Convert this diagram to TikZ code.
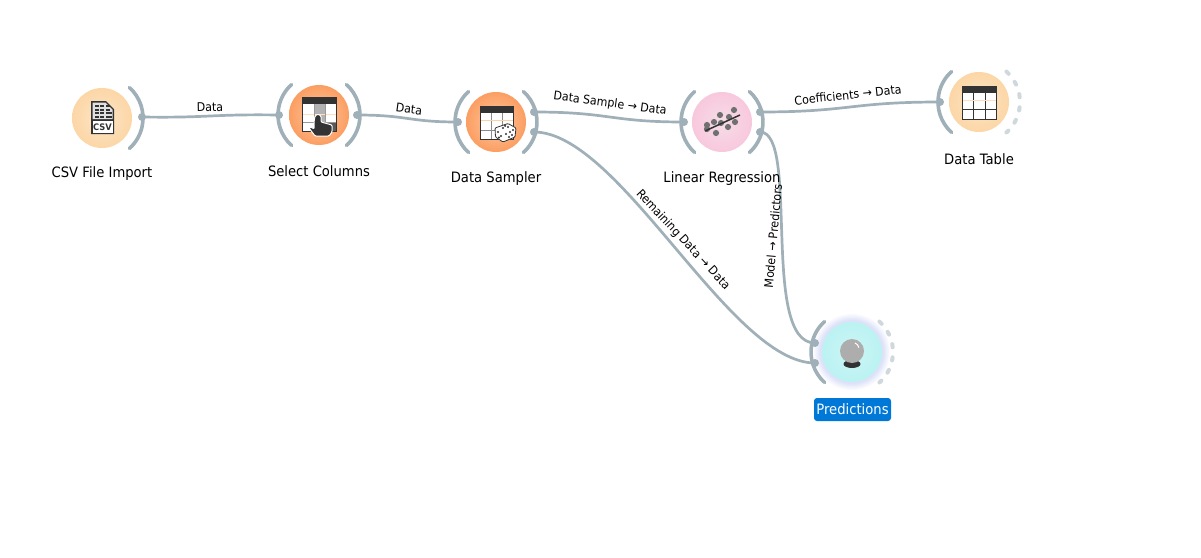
\documentclass[tikz,border=0pt]{standalone}
\usepackage{fontspec}
\setmainfont{DejaVu Sans}[FakeStretch=0.92]
\begin{document}
\begin{tikzpicture}[x=1pt,y=-1pt,
  link/.style={draw=wire,line width=2.7pt},
  arcmark/.style={draw=wire,line width=3.6pt,line cap=round},
  freearc/.style={draw=wirefaint,line width=4pt,line cap=round,dash pattern=on 3.2pt off 10pt},
  port/.style={circle,fill=wire,inner sep=0pt,minimum size=8pt},
  wlabel/.style={font=\fontsize{14.3}{16}\selectfont,text=black,inner sep=0pt},
  elabel/.style={font=\fontsize{12}{13}\selectfont,text=black,inner sep=0pt},
  widget/.style={circle,inner sep=0pt,minimum size=60pt},
  tan/.style={widget,inner color=tanc,outer color=tano},
  orangew/.style={widget,inner color=orc,outer color=oro},
  pinkw/.style={widget,inner color=pic,outer color=pio},
  cyanw/.style={widget,inner color=cyc,outer color=cyo},
  greydot/.style={circle,fill=dotc,inner sep=0pt,minimum size=6.2pt}
]
\definecolor{wire}{HTML}{A0B0B8}
\definecolor{wirefaint}{HTML}{CFD8DC}
\definecolor{tanc}{HTML}{FDE6C8}\definecolor{tano}{HTML}{FCD6A6}
\definecolor{orc}{HTML}{FFC7A0}\definecolor{oro}{HTML}{FB9E62}
\definecolor{pic}{HTML}{F6DDE8}\definecolor{pio}{HTML}{F8C8DC}
\definecolor{cyc}{HTML}{CCF6F5}\definecolor{cyo}{HTML}{BBF2F2}
\definecolor{inkc}{HTML}{333333}
\definecolor{dotc}{HTML}{707070}
\definecolor{sel}{HTML}{0078D7}
\definecolor{halo}{HTML}{6A7CF0}
\path[use as bounding box,fill=white] (0,0) rectangle (1201,557);

% halo
\foreach \r in {38,37,36,35,34,33,32}{\fill[halo,opacity=.03] (852,352) circle (\r);}

% widgets
\node[tan] (csv) at (102,118) {};
\node[orangew] (sel) at (319,115) {};
\node[orangew] (sam) at (496,122) {};
\node[pinkw] (lin) at (722,122) {};
\node[tan] (tab) at (979,102) {};
\node[cyanw] (pre) at (852,352) {};

% port arcs
\draw[arcmark] (csv.center) ++(-48:41) arc[start angle=-48,end angle=48,radius=41];
\draw[arcmark] (sel.center) ++(-48:41) arc[start angle=-48,end angle=48,radius=41];
\draw[arcmark] (sel.center) ++(132:41) arc[start angle=132,end angle=228,radius=41];
\draw[arcmark] (sam.center) ++(-48:41) arc[start angle=-48,end angle=48,radius=41];
\draw[arcmark] (sam.center) ++(132:41) arc[start angle=132,end angle=228,radius=41];
\draw[arcmark] (lin.center) ++(-48:41) arc[start angle=-48,end angle=48,radius=41];
\draw[arcmark] (lin.center) ++(132:41) arc[start angle=132,end angle=228,radius=41];
\draw[arcmark] (tab.center) ++(132:41) arc[start angle=132,end angle=228,radius=41];
\draw[arcmark] (pre.center) ++(132:41) arc[start angle=132,end angle=228,radius=41];
\draw[freearc] (tab.center) ++(-48:41) arc[start angle=-48,end angle=48,radius=41];
\draw[freearc] (pre.center) ++(-48:41) arc[start angle=-48,end angle=48,radius=41];

% ports
\node[port] (csvo) at (142,117) {};
\node[port] (seli) at (279,115) {};
\node[port] (selo) at (357,115) {};
\node[port] (sami) at (458,122) {};
\node[port] (samoa) at (534,112) {};
\node[port] (samob) at (534,132) {};
\node[port] (lini) at (684,122) {};
\node[port] (linoa) at (760,112) {};
\node[port] (linob) at (760,132) {};
\node[port] (tabi) at (940,102) {};
\node[port] (preia) at (815,343) {};
\node[port] (preib) at (815,363) {};

% connectors
\draw[link] (csvo.center) .. controls (210,118) and (210,114) .. (seli.center);
\draw[link] (selo.center) .. controls (408,115) and (408,122) .. (sami.center);
\draw[link] (samoa.center) .. controls (610,112) and (610,122) .. (lini.center);
\draw[link] (linoa.center) .. controls (850,112) and (850,102) .. (tabi.center);
\draw[link] (samob.center) .. controls (620,132) and (730,363) .. (preib.center);
\draw[link] (linob.center) .. controls (800,132) and (760,343) .. (preia.center);

% edge labels
\node[elabel,rotate=1] (l1) at (210,107) {Data};
\node[elabel,rotate=-8] (l2) at (409,109) {Data};
\node[elabel,rotate=-7.5] (l3) at (610,104) {Data Sample → Data};
\node[elabel,rotate=6] (l4) at (848,95) {Coefficients → Data};
\node[elabel,rotate=-47] (l5) at (683,240) {Remaining Data → Data};
\node[elabel,rotate=85] (l6) at (773,236) {Model → Predictors};

% widget labels
\node[wlabel] (t1) at (102,174) {CSV File Import};
\node[wlabel] (t2) at (319,171) {Select Columns};
\node[wlabel] (t3) at (496,179) {Data Sampler};
\node[wlabel] (t4) at (722,179) {Linear Regression};
\node[wlabel] (t5) at (979,159) {Data Table};
\node[fill=sel,rounded corners=3pt,minimum width=77pt,minimum height=23pt,inner sep=0pt] (t6) at (852.5,409.5) {};
\node[wlabel,text=white] (t6t) at (852.5,409.5) {Predictions};

% CSV icon
\fill[inkc] (91,101) -- (106,101) -- (114,109) -- (114,134) -- (91,134) -- cycle;
\fill[white!88!black] (92.5,102.5) -- (105.5,102.5) -- (112.5,109.5) -- (112.5,119) -- (92.5,119) -- cycle;
\foreach \r in {105,108.5,112,115.5}{
  \foreach \c in {94.5,100,105.5}{\fill[inkc] (\c,\r) rectangle ++(4.3,2.3);}
}
\foreach \r in {112,115.5}{\fill[inkc] (109.5,\r) rectangle ++(2.6,2.3);}
\fill[white] (92.5,121) rectangle (112.5,132.5);
\node[inner sep=0pt,text=inkc,font=\fontsize{9}{9}\bfseries\selectfont] (csvt) at (102.5,127) {CSV};

% Select Columns icon
\fill[white] (302,97) rectangle (336,131);
\fill[white!70!black] (314,104) rectangle (325,131);
\fill[white!35!black] (325,123) rectangle (336,131);
\draw[white!75!orange,line width=1pt] (302,114) -- (336,114);
\draw[white!60!black,line width=.7pt] (314,104) -- (314,131) (325,104) -- (325,131) (302,122) -- (336,122);
\fill[inkc] (302,97) rectangle (336,104);
\draw[inkc,line width=1pt] (302,97) rectangle (336,131);
\draw[white,line width=1pt,fill=inkc,rounded corners=1pt] (314,122) -- (314,129) -- (311,127) -- (309,128) -- (315,136) -- (329,136) -- (332,132) -- (332,125) -- (321,122) -- (321,116) -- (318,114) -- (315,116) -- cycle;

% Data Sampler icon
\fill[white] (480,106) rectangle (513,139);
\draw[white!55!black,line width=.8pt] (491,112) -- (491,139) (502,112) -- (502,139) (480,130) -- (513,130);
\draw[white!65!orange,line width=.8pt] (480,120) -- (513,120);
\fill[inkc] (480,106) rectangle (513,113);
\draw[inkc,line width=1pt] (480,106) rectangle (513,139);
\draw[inkc,line width=.8pt,fill=white,rounded corners=1pt] (495,128) -- (508,123.5) -- (516,128) -- (515,137) -- (503,142) -- (495.5,137) -- cycle;
\foreach \p in {(498,132),(501,136),(499,137.5),(503,128),(508,127),(505,125.8),(506,134),(510,132),(513,130),(509,137),(512,135)}{\fill[inkc] \p circle (1.2);}

% Linear Regression icon
\foreach \p in {(707,125),(714,122),(720,115),(734,110),(729,117),(735,122),(728,127),(721,123),(716,133),(707,129)}{\node[greydot] at \p {};}
\draw[inkc,line width=1.5pt] (705,131) -- (740,115);

% Data Table icon
\fill[white] (962,86) rectangle (996,119);
\draw[inkc,line width=.8pt] (973,93) -- (973,119) (985,93) -- (985,119) (962,109) -- (996,109);
\draw[white!75!orange,line width=.8pt] (962,100) -- (996,100);
\fill[inkc] (962,86) rectangle (996,93);
\draw[inkc,line width=1pt] (962,86) rectangle (996,119);

% Predictions icon
\fill[inkc] (852,364) ellipse (8.5 and 4);
\fill[white!68!black] (852,351) circle (12);
\draw[white,line width=1pt] (855,343) arc[start angle=-70,end angle=-10,radius=6];
\end{tikzpicture}
\end{document}
